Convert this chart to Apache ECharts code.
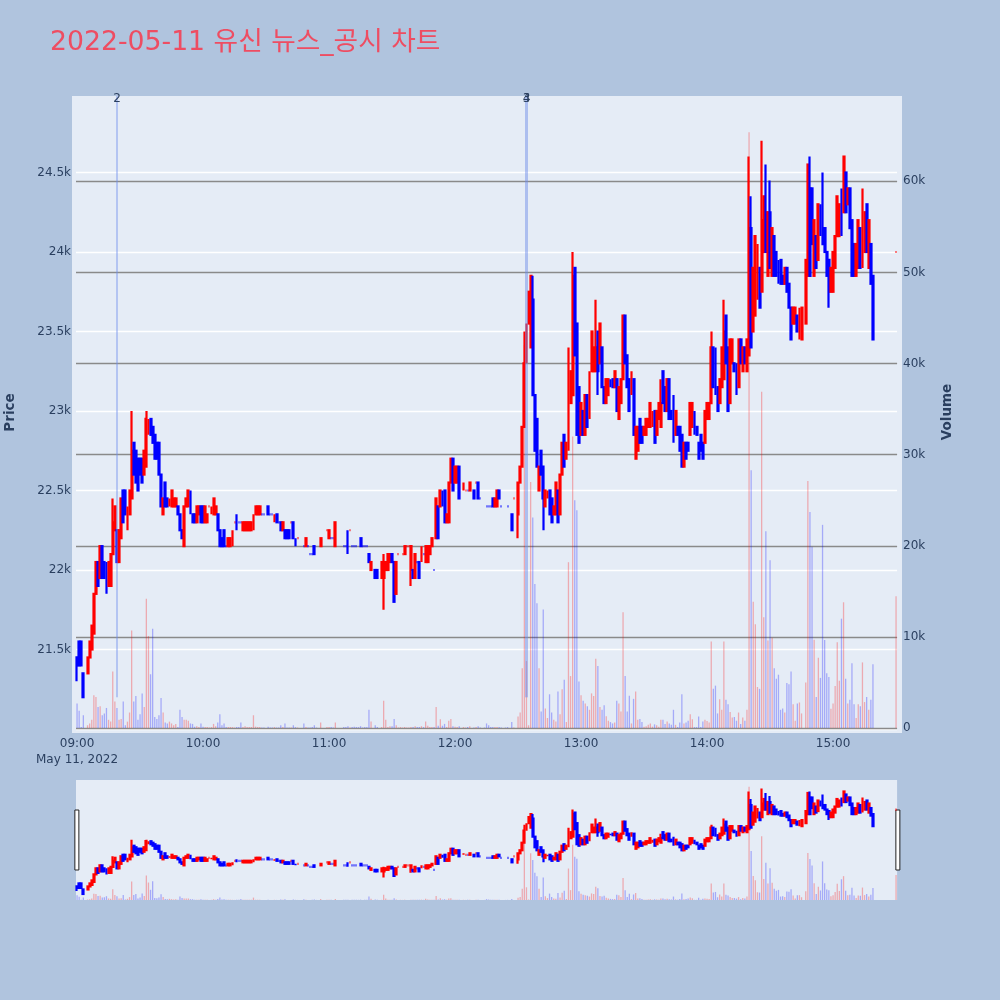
<!DOCTYPE html>
<html><head><meta charset="utf-8">
<style>html,body{margin:0;padding:0;background:#B0C4DE}#c{width:1000px;height:1000px}</style>
<script src="https://cdn.jsdelivr.net/npm/echarts@6/dist/echarts.min.js"></script>
</head><body><div id="c"></div>
<script>
const titleText = '2022-05-11 유신 뉴스_공시 차트';
const dateLabel = 'May 11, 2022';
const eventTimes = ['09:19','12:34','12:34'];
const eventLabels = ['2','3','4'];
const eventLineLow = 21200;
const priceRange = [21000, 24981];
const volumeRange = [0, 69370];
const _ = null;
const opens = [
21450,21550,21550,21350,_,21350,21450,21500,21600,21850,
22050,21950,22150,22050,22050,21900,21900,22100,22250,22250,
22050,22200,22500,22500,22250,22350,22450,22800,22750,22700,
22700,22700,22600,22650,22850,22950,22900,22850,22800,22800,
22600,22350,22550,22450,22400,22400,22400,22400,22400,22350,
22250,22150,22400,22400,22500,22350,22350,22300,22350,22400,
22400,22300,22300,22400,22350,22350,22350,22350,22250,22200,
22250,22150,22150,22150,22150,22300,22300,22300,22300,22250,
22250,22250,22250,22250,22250,22350,22350,22350,22350,22350,
_,22400,22350,22350,22300,22350,22300,22300,22250,22250,
22250,22250,22300,22300,22200,22200,_,_,22150,22150,
22150,22100,22100,22150,22150,_,22150,_,_,22250,
22200,22200,22200,22150,_,_,_,22150,22150,22150,
22250,22150,22150,22150,22150,22200,22150,22150,22150,22100,
22000,_,22000,22000,_,21950,21950,22000,22000,22050,
22100,22050,21850,22100,22100,22100,22100,22150,22150,22000,
22000,21950,22050,22050,22050,22100,22050,22050,22100,22150,
22000,22200,22400,22400,22500,22500,22300,22300,22550,22700,
22550,22550,22650,_,22500,22500,22500,22500,_,22500,
22550,22550,22450,_,22450,22400,22400,22400,22450,22400,
22400,22500,22400,_,22400,22400,_,22350,22450,_,
22350,22550,22650,22900,23300,23550,23400,23700,23100,22950,
22500,22750,22650,22400,22450,22500,22450,22350,22350,22500,
22350,22600,22850,22700,22750,23050,23100,23900,23550,23150,
22850,23000,22850,23100,22950,23250,23250,23250,23500,23300,
23400,23150,23050,23100,23200,23200,23150,23200,22950,23050,
23200,23600,23350,23200,23100,23200,22700,22750,22950,22900,
22850,22850,22900,22900,22900,23000,22850,22950,22900,23250,
23150,23000,23200,23000,23100,22850,22900,22900,22850,22650,
22800,22800,22850,22900,23000,22900,22800,22850,22800,22800,
22950,22950,23050,23400,23400,23150,23050,23150,23200,23600,
23400,23050,23300,23300,23300,23150,23450,23250,23400,23250,
23350,24150,23500,23600,23700,23900,23750,24000,24250,23850,
24250,23850,24100,24000,23950,23950,23850,23800,23900,23800,
23650,23550,23550,23600,23450,23450,_,23550,23850,24400,
24400,23850,24100,23950,24300,24150,24150,24000,23950,23750,
23750,23900,24100,24100,24400,24250,24500,24300,24400,24200,
24050,23850,23900,24150,23900,24000,24300,23900,24050,23850,
_,_,_,_,_,_,_,_,_,_,
24000];
const closes = [
21400,21400,21400,21200,_,21450,21550,21650,21850,22050,
21900,22150,21950,21950,21850,22050,22100,22300,22400,22050,
22250,22450,22300,22350,22400,22500,22750,22600,22550,22500,
22600,22550,22750,22950,22950,22850,22800,22700,22700,22600,
22400,22450,22400,22400,22450,22500,22450,22450,22350,22250,
22200,22400,22450,22500,22350,22300,22300,22400,22400,22300,
22300,22400,22350,22400,22400,22450,22400,22250,22150,22150,
22150,22150,22200,22200,22250,22300,22300,22300,22300,22300,
22300,22300,22300,22300,22350,22400,22400,22400,22350,22350,
_,22350,22350,22350,22350,22300,22300,22250,22300,22200,
22200,22200,22300,22200,22150,22200,_,_,22150,22200,
22150,22100,22100,22100,22150,_,22200,_,_,22250,
22250,22200,22200,22300,_,_,_,22150,22150,22150,
22250,22150,22150,22150,22150,22150,22150,22150,22150,22050,
22050,_,21950,21950,_,22050,22050,22050,22100,22100,
22050,21800,22050,22100,22100,22100,22150,22150,22150,22150,
21950,22100,22050,21950,22150,22100,22150,22150,22150,22200,
22000,22450,22200,22500,22400,22300,22350,22550,22700,22500,
22650,22650,22450,_,22550,22500,22500,22550,_,22450,
22550,22450,22450,_,22450,22400,22400,22400,22400,22450,
22500,22450,22400,_,22400,22400,_,22250,22450,_,
22550,22650,22900,23300,23550,23750,23850,23100,22750,22650,
22650,22600,22450,22500,22500,22350,22300,22400,22550,22300,
22600,22800,22650,22800,23200,23250,23850,23350,22850,22800,
23050,22850,23100,22900,23250,23500,23400,23400,23250,23550,
23150,23050,23200,23200,23150,23150,23250,23000,23150,23200,
23600,23300,23150,23000,23250,22850,22900,22900,22800,22800,
22900,22950,22950,23050,23000,22800,23000,23050,23050,23050,
23000,23200,22950,22950,22800,23000,22850,22750,22650,22800,
22700,22750,23050,23050,22850,22850,22700,22750,22700,23000,
23050,23050,23400,23150,23100,23000,23200,23400,23500,23300,
23000,23450,23450,23250,23100,23450,23300,23400,23300,23450,
24150,23400,23900,24100,24050,23650,24200,24350,24000,24250,
23900,24150,23850,23850,23800,23800,23800,23900,23750,23650,
23450,23650,23650,23500,23650,23650,_,23950,24550,23850,
24050,24200,23900,24300,24100,24050,24000,23850,23750,23900,
24000,24100,24350,24300,24100,24600,24250,24400,24150,23850,
23850,24050,24200,23900,24250,24250,24000,24200,23800,23450,
_,_,_,_,_,_,_,_,_,_,
24000];
const wickHighs = {17:22450,26:23000,33:23000,76:22350,129:22250,146:22100,213:23500,217:23850,234:23400,236:24000,247:23700,278:23200,302:23500,308:23700,320:24600,321:24350,326:24700,328:24550,330:24450,349:24600,355:24500,374:24400};
const wickLows = {0:21300,76:22250,129:22100,146:21750,159:21900,210:22200,222:22250,248:23100,358:23650};
const dojiUp = [63,64,75,102,105,119,130,153,154,155,157,158,185,190,208,390];
const volumes = [
2700,1900,100,1400,_,300,500,900,3600,3400,
2300,2400,1400,1600,2200,900,700,6200,2900,2200,
900,1000,2900,300,700,1700,10700,2900,3500,900,
1500,3800,2300,14200,10100,5900,10900,1200,1000,1400,
3300,1700,600,500,700,500,300,450,100,2000,
1200,900,900,800,500,450,150,200,100,500,
150,100,100,50,100,450,200,600,1500,300,
500,100,100,100,100,50,100,100,600,100,
200,100,100,100,1400,150,100,100,50,50,
_,150,50,50,100,50,50,300,100,500,
50,50,50,300,100,50,_,_,500,100,
50,50,100,300,50,_,600,_,_,100,
100,100,50,600,_,_,_,100,100,200,
50,100,150,100,100,200,50,100,100,2000,
700,_,300,100,_,100,3000,900,100,200,
200,1000,300,50,100,50,100,50,50,100,
100,200,100,100,200,100,700,250,100,100,
100,2300,250,950,250,450,100,800,1000,200,
150,100,200,_,100,50,100,200,_,50,
100,200,50,_,50,500,300,100,100,100,
100,100,50,_,50,100,_,650,50,_,
1250,1700,6550,42000,7350,300,27000,23100,15800,13700,
6550,1800,13000,2150,1100,3700,1700,900,700,4000,
1500,4250,5300,650,18200,5700,32000,25000,23900,5100,
3600,3000,2700,2400,2000,3800,3500,7600,6800,2300,
2000,2500,1300,800,650,500,600,3000,2700,1800,
12700,5700,1800,3550,500,3200,4000,900,1000,650,
150,200,350,500,150,400,300,150,900,900,
450,700,500,350,2000,350,100,600,3700,500,
600,800,1500,950,100,100,1250,100,700,900,
770,600,9500,4300,4650,1600,3150,2000,9500,3100,
2600,1750,1150,1200,800,1700,450,1150,800,2000,
65400,28300,13870,11400,4500,4300,36900,12150,21600,9600,
18400,9900,6550,5400,5850,2000,2150,1700,4950,4800,
6200,2600,800,2700,2800,1600,_,5000,27100,23700,
19900,9700,3400,7700,5500,22300,9660,6000,5600,2100,
2700,4600,9400,5200,12000,13800,5400,2700,3100,7100,
2600,1100,2600,2400,7200,2850,3400,2000,3100,7000,
_,_,_,_,_,_,_,_,_,_,
14460];

const UP = '#ff0000', DOWN = '#0000ff', TEXT = '#2a3f5f', FONT = '"DejaVu Sans","Noto Sans CJK KR",sans-serif';
const times = [];
for (let m = 9 * 60; m <= 15 * 60 + 30; m++) {
  times.push(String(Math.floor(m / 60)).padStart(2, '0') + ':' + String(m % 60).padStart(2, '0'));
}
const isUp = i => closes[i] > opens[i] || (closes[i] === opens[i] && dojiUp.includes(i));
const candleItems = times.map((t, i) => {
  if (opens[i] === null) return { value: ['-', '-', '-', '-'] };
  const c = isUp(i) ? UP : DOWN;
  const low = wickLows[i] ?? Math.min(opens[i], closes[i]);
  const high = wickHighs[i] ?? Math.max(opens[i], closes[i]);
  return { value: [opens[i], closes[i], low, high], itemStyle: { color: c, color0: c, borderColor: c, borderColor0: c, borderWidth: 2.2 } };
});
const barItems = times.map((t, i) => ({
  value: volumes[i],
  itemStyle: { color: opens[i] !== null && isUp(i) ? UP : DOWN, opacity: 0.28 }
}));
const fmtK = v => v === 0 ? '0' : (v / 1000) + 'k';

const gridLeft = 76, gridRight = 102.9;
const candleSeries = (x, y, extra) => Object.assign({
  type: 'candlestick', xAxisIndex: x, yAxisIndex: y, data: candleItems, barWidth: 1.4, z: 5, large: false,
  progressive: 0, animation: false
}, extra);
const barSeries = (x, y) => ({
  type: 'bar', xAxisIndex: x, yAxisIndex: y, data: barItems, barWidth: 1.3, z: 3, animation: false, progressive: 0
});

const eventLines = eventTimes.map((t, i) => ([
  { coord: [t, eventLineLow], lineStyle: { width: i === 0 ? 2 : 3, color: 'rgba(110,140,235,' + (i === 0 ? 0.42 : 0.28) + ')', type: 'solid' } },
  { coord: [t, priceRange[1]], label: { show: true, position: 'end', distance: -9, formatter: eventLabels[i], color: TEXT, fontSize: 12, fontFamily: FONT } }
]));

const option = {
  animation: false,
  backgroundColor: '#B0C4DE',
  title: { text: titleText, left: 45, top: 25, textStyle: { color: '#ee4d62', fontSize: 26.7, fontWeight: 'normal', fontFamily: FONT } },
  graphic: [{ type: 'rect', z: -10, silent: true, shape: { x: 72, y: 96, width: 830, height: 637 }, style: { fill: '#E5ECF6' } }],
  grid: [
    { left: gridLeft, right: gridRight, top: 96, height: 633, outerBoundsMode: 'none' },
    { left: gridLeft, right: gridRight, top: 96, height: 632, outerBoundsMode: 'none' },
    { left: gridLeft, right: gridRight, top: 780, height: 120, show: true, backgroundColor: '#E5ECF6', borderWidth: 0, outerBoundsMode: 'none' },
    { left: gridLeft, right: gridRight, top: 780, height: 120, outerBoundsMode: 'none' }
  ],
  xAxis: [
    { type: 'category', gridIndex: 0, data: times, axisLine: { show: false }, axisTick: { show: false },
      axisLabel: { interval: 59, margin: 7, color: TEXT, fontSize: 12, fontFamily: FONT, lineHeight: 16,
        formatter: (v, i) => i === 0 ? v + '\n' + dateLabel : v } },
    { type: 'category', gridIndex: 1, data: times, show: false },
    { type: 'category', gridIndex: 2, data: times, show: false },
    { type: 'category', gridIndex: 3, data: times, show: false }
  ],
  yAxis: [
    { type: 'value', gridIndex: 0, min: priceRange[0], max: priceRange[1], interval: 500, name: 'Price', nameLocation: 'middle', nameGap: 59, nameMoveOverlap: false,
      nameRotate: 90, nameTextStyle: { color: TEXT, fontSize: 13.5, fontWeight: 'bold', fontFamily: FONT },
      axisLine: { show: false }, axisTick: { show: false },
      axisLabel: { margin: 5, color: TEXT, fontSize: 12, fontFamily: FONT, showMaxLabel: false,
        formatter: v => v === priceRange[0] ? '' : fmtK(v) },
      splitLine: { show: true, showMaxLine: false, lineStyle: { color: '#ffffff', width: 1.3 } } },
    { type: 'value', gridIndex: 1, position: 'right', min: volumeRange[0], max: volumeRange[1], interval: 10000, name: 'Volume', nameLocation: 'middle', nameGap: 44, nameMoveOverlap: false,
      nameRotate: 90, nameTextStyle: { color: TEXT, fontSize: 13.5, fontWeight: 'bold', fontFamily: FONT },
      axisLine: { show: false }, axisTick: { show: false },
      axisLabel: { margin: 6, color: TEXT, fontSize: 12, fontFamily: FONT, showMaxLabel: false, formatter: fmtK },
      splitLine: { show: true, showMaxLine: false, lineStyle: { color: '#8a8a8a', width: 1.3 } } },
    { type: 'value', gridIndex: 2, min: priceRange[0], max: priceRange[1], show: false, splitLine: { show: false } },
    { type: 'value', gridIndex: 3, min: volumeRange[0], max: volumeRange[1], show: false, splitLine: { show: false } }
  ],
  dataZoom: [{
    type: 'slider', xAxisIndex: [0, 1], filterMode: 'none', left: 75.3, width: 823, top: 780, height: 120, start: 0, end: 100,
    backgroundColor: 'transparent', borderColor: 'transparent', fillerColor: 'transparent', showDataShadow: false, showDetail: false,
    brushSelect: false, moveHandleSize: 0, handleSize: '50%', handleIcon: 'path://M0,0 H40 V600 H0 Z',
    handleStyle: { color: '#ffffff', borderColor: '#222222', borderWidth: 1 }, zoomLock: true
  }],
  series: [
    barSeries(1, 1),
    candleSeries(0, 0, { markLine: { silent: true, symbol: 'none', animation: false, data: eventLines, z: 8 } }),
    barSeries(3, 3),
    candleSeries(2, 2)
  ]
};
echarts.init(document.getElementById('c')).setOption(option);
</script></body></html>
